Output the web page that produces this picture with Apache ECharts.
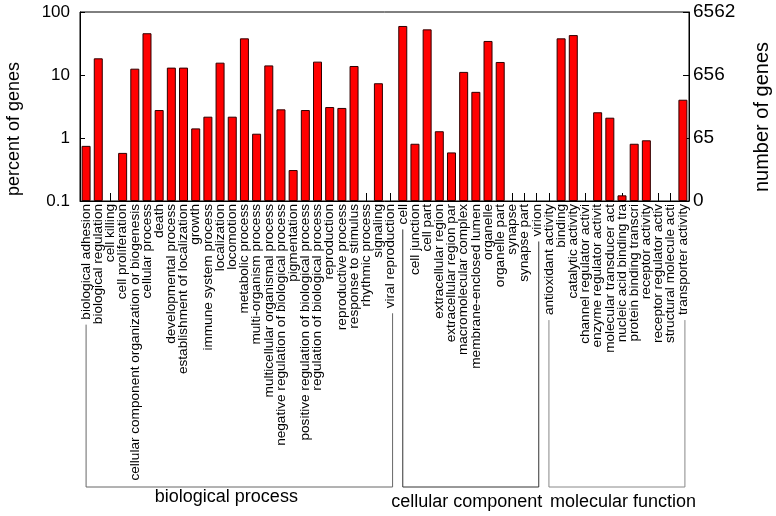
<!DOCTYPE html>
<html><head><meta charset="utf-8">
<script src="https://cdn.jsdelivr.net/npm/echarts@6/dist/echarts.min.js"></script>
<style>html,body{margin:0;padding:0;background:#fff}#c{width:776px;height:516px}</style>
</head><body><div id="c"></div>
<script>
const categories = [
  'biological adhesion','biological regulation','cell killing','cell proliferation',
  'cellular component organization or biogenesis','cellular process','death',
  'developmental process','establishment of localization','growth','immune system process',
  'localization','locomotion','metabolic process','multi-organism process',
  'multicellular organismal process','negative regulation of biological process','pigmentation',
  'positive regulation of biological process','regulation of biological process','reproduction',
  'reproductive process','response to stimulus','rhythmic process','signaling','viral reproduction',
  'cell','cell junction','cell part','extracellular region','extracellular region par',
  'macromolecular complex','membrane-enclosed lumen','organelle','organelle part','synapse',
  'synapse part','virion',
  'antioxidant activity','binding','catalytic activity','channel regulator activi',
  'enzyme regulator activit','molecular transducer act','nucleic acid binding tra',
  'protein binding transcri','receptor activity','receptor regulator activ',
  'structural molecule acti','transporter activity'
];
const percentValues = [
  0.75, 18.4, 0, 0.58, 12.6, 46, 2.78, 13.1, 13.1, 1.42, 2.18, 15.7, 2.18, 38.2, 1.17,
  14.2, 2.85, 0.31, 2.78, 16.3, 3.1, 3.0, 13.9, 0, 7.4, 0,
  60, 0.81, 53, 1.28, 0.59, 11.2, 5.4, 34.7, 16.1, 0, 0, 0,
  0, 38.2, 43, 0, 2.56, 2.1, 0.123, 0.81, 0.92, 0, 0, 4.05
];
const leftTickLabels = ['0.1', '1', '10', '100'];
const rightTickLabels = ['0', '65', '656', '6562'];
const groupNames = ['biological process', 'cellular component', 'molecular function'];
const groupFirst = [0, 26, 38];
const groupLast = [25, 37, 49];

const FONT = 'Liberation Sans';
const labelSize = 13.6;
const chart = echarts.init(document.getElementById('c'), null, {renderer: 'canvas'});
const tickIdx = v => Math.round(Math.log10(v)) + 1;

chart.setOption({
  animation: false,
  backgroundColor: '#fff',
  grid: {left: 80, right: 87, top: 12, bottom: 315, show: true, borderColor: '#000', borderWidth: 1, outerBoundsMode: 'none'},
  xAxis: {
    type: 'category', data: categories,
    axisLine: {show: true, lineStyle: {color: '#000'}},
    axisTick: {show: true, inside: true, alignWithLabel: true, length: 8, lineStyle: {color: '#000'}},
    axisLabel: {interval: 0, rotate: 90, margin: 3, fontSize: labelSize, fontFamily: FONT, color: '#000'},
    splitLine: {show: false}
  },
  yAxis: [{
    type: 'log', logBase: 10, min: 0.1, max: 100, startValue: 0.1, position: 'left',
    axisLine: {show: true, lineStyle: {color: '#000'}},
    axisTick: {show: true, inside: true, length: 5, lineStyle: {color: '#000'}},
    axisLabel: {fontSize: 17, fontFamily: FONT, color: '#000', margin: 10,
      formatter: v => leftTickLabels[tickIdx(v)]},
    splitLine: {show: false}, minorTick: {show: false}
  }, {
    type: 'log', logBase: 10, min: 0.1, max: 100, position: 'right',
    axisLine: {show: true, lineStyle: {color: '#000'}},
    axisTick: {show: true, inside: true, length: 6, lineStyle: {color: '#000'}},
    axisLabel: {fontSize: 19, fontFamily: FONT, color: '#000', margin: 4,
      formatter: v => rightTickLabels[tickIdx(v)]},
    splitLine: {show: false}, minorTick: {show: false}
  }],
  series: [{
    type: 'bar', yAxisIndex: 0, barWidth: 9,
    data: percentValues.map(v => v > 0 ? v : '-'),
    itemStyle: {color: '#ff0000', borderColor: '#300000', borderWidth: 1}
  }]
});

// brackets and axis names
const ctx = document.createElement('canvas').getContext('2d');
ctx.font = labelSize + 'px "' + FONT + '"';
const labelStart = 204, bracketY = 487;
const bracketColors = ['#666', '#333', '#888'];
const labelShift = [-13, -4, 6];
const labelY = [497, 502, 502];
const graphics = [];
groupNames.forEach((name, g) => {
  const x1 = chart.convertToPixel({xAxisIndex: 0}, groupFirst[g]);
  const x2 = chart.convertToPixel({xAxisIndex: 0}, groupLast[g]) + 2;
  const y1 = labelStart + ctx.measureText(categories[groupFirst[g]]).width + 5;
  const y2 = labelStart + ctx.measureText(categories[groupLast[g]]).width + 5;
  graphics.push({type: 'polyline', shape: {points: [[x1, y1], [x1, bracketY], [x2, bracketY], [x2, y2]]},
    style: {stroke: bracketColors[g], lineWidth: 1, fill: null}});
  graphics.push({type: 'text', x: (x1 + x2) / 2 + labelShift[g], y: labelY[g],
    style: {text: name, fontSize: 18, fontFamily: FONT, fill: '#000',
      align: 'center', verticalAlign: 'middle', textAlign: 'center', textVerticalAlign: 'middle'}});
});
graphics.push({type: 'text', x: 14, y: 129, rotation: Math.PI / 2,
  style: {text: 'percent of genes', fontSize: 18, fontFamily: FONT, fill: '#000',
    align: 'center', verticalAlign: 'middle', textAlign: 'center', textVerticalAlign: 'middle'}});
graphics.push({type: 'text', x: 762, y: 117, rotation: Math.PI / 2,
  style: {text: 'number of genes', fontSize: 20, fontFamily: FONT, fill: '#000',
    align: 'center', verticalAlign: 'middle', textAlign: 'center', textVerticalAlign: 'middle'}});
chart.setOption({graphic: graphics});
</script>
</body></html>
